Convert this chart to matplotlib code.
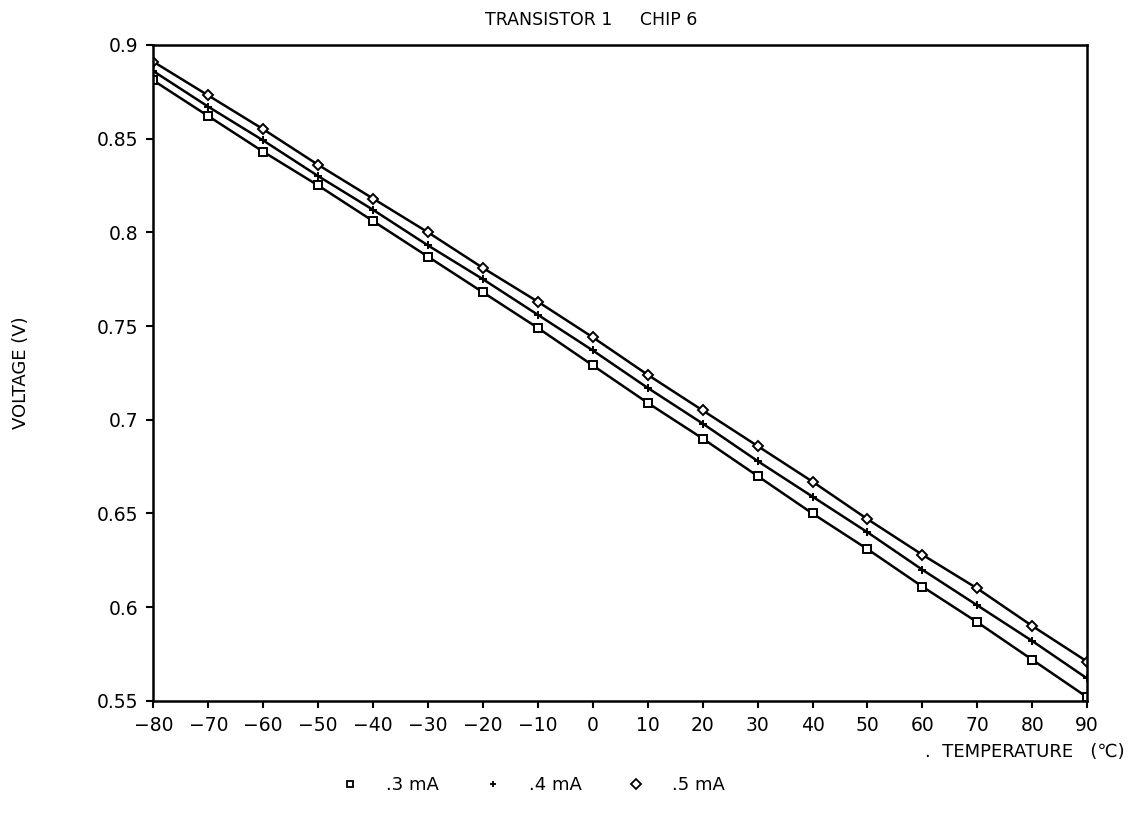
import numpy as np
import matplotlib
matplotlib.use("Agg")
import matplotlib.pyplot as plt
from matplotlib.lines import Line2D

temperature = [-80, -70, -60, -50, -40, -30, -20, -10, 0, 10, 20, 30, 40, 50, 60, 70, 80, 90]
v_03mA = [0.881, 0.862, 0.843, 0.825, 0.806, 0.787, 0.768, 0.749, 0.729, 0.709,
          0.690, 0.670, 0.650, 0.631, 0.611, 0.592, 0.572, 0.552]
v_04mA = [0.886, 0.867, 0.849, 0.830, 0.812, 0.793, 0.775, 0.756, 0.737, 0.717,
          0.698, 0.678, 0.659, 0.640, 0.620, 0.601, 0.582, 0.562]
v_05mA = [0.891, 0.873, 0.855, 0.836, 0.818, 0.800, 0.781, 0.763, 0.744, 0.724,
          0.705, 0.686, 0.667, 0.647, 0.628, 0.610, 0.590, 0.571]
y_ticks = [0.55, 0.6, 0.65, 0.7, 0.75, 0.8, 0.85, 0.9]
y_tick_labels = ["0.55", "0.6", "0.65", "0.7", "0.75", "0.8", "0.85", "0.9"]

fig = plt.figure(figsize=(11.36, 8.16), dpi=100)
ax = fig.add_axes([0.135, 0.141, 0.822, 0.804])

series = [(v_03mA, "s", ".3 mA"), (v_04mA, "+", ".4 mA"), (v_05mA, "D", ".5 mA")]
for vals, mk, lab in series:
    ax.plot(temperature, vals, color="black", lw=1.8, marker=mk, ms=6 if mk != "D" else 5,
            mfc="white", mec="black", mew=1.4, label=lab)

ax.set_xlim(-80, 90)
ax.set_ylim(0.55, 0.9)
ax.set_xticks(temperature)
ax.set_xticklabels([str(t).replace("-", "\u2212") for t in temperature])
ax.set_yticks(y_ticks)
ax.set_yticklabels(y_tick_labels)
ax.tick_params(direction="out", length=5, width=1.5, labelsize=13.5, pad=6)
for s in ax.spines.values():
    s.set_linewidth(1.8)

ax.set_ylabel("VOLTAGE (V)", fontsize=13, labelpad=48)
fig.text(0.52, 0.975, "TRANSISTOR 1     CHIP 6", ha="center", va="center", fontsize=12.5)
fig.text(0.99, 0.078, ".  TEMPERATURE   (\u2103)", ha="right", va="center", fontsize=13)

handles = [Line2D([], [], ls="none", marker=mk, ms=5, mfc="white", mec="black", mew=1.3,
                  color="black") for _, mk, _ in series]
fig.legend(handles, [lab for _, _, lab in series], loc="center", bbox_to_anchor=(0.465, 0.038),
           ncol=3, frameon=False, fontsize=13, handletextpad=1.0, columnspacing=2.0)

fig.savefig("out.png", dpi=100)
